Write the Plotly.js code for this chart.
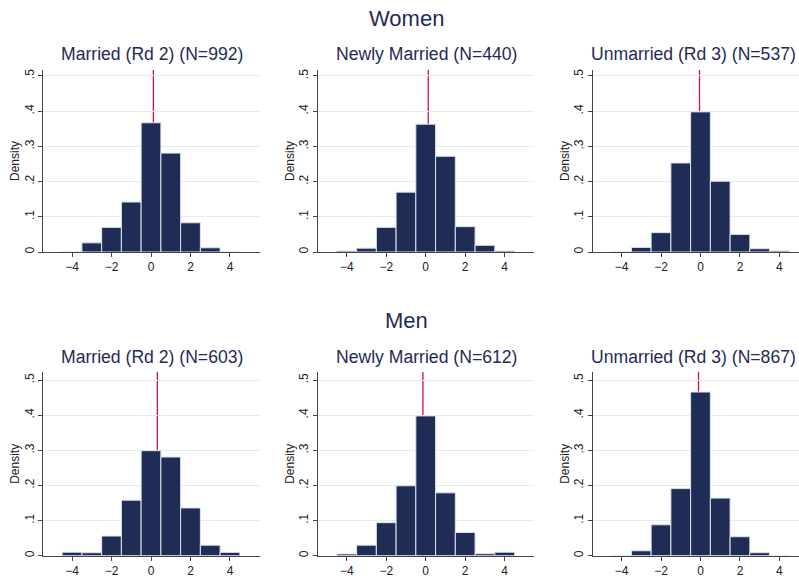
<!DOCTYPE html>
<html>
<head>
<meta charset="utf-8">
<script src="https://cdn.plot.ly/plotly-3.0.1.min.js"></script>
<style>
html, body { margin:0; padding:0; overflow:hidden; background:#fff; }
#chart { width:799px; height:578px; }
</style>
</head>
<body>
<div id="chart"></div>
<script>
// Bin centres (bin width 1)
const bins = [-4, -3, -2, -1, 0, 1, 2, 3, 4];

// Densities
const womenMarried   = [0, 0.026, 0.070, 0.142, 0.367, 0.281, 0.083, 0.012, 0];
const womenNewly     = [0.003, 0.011, 0.070, 0.170, 0.363, 0.272, 0.072, 0.019, 0.003];
const womenUnmarried = [0, 0.013, 0.055, 0.253, 0.398, 0.201, 0.050, 0.0095, 0.003];
const menMarried     = [0.010, 0.0085, 0.056, 0.158, 0.299, 0.281, 0.136, 0.030, 0.0095];
const menNewly       = [0.005, 0.030, 0.094, 0.199, 0.398, 0.179, 0.066, 0.0057, 0.010];
const menUnmarried   = [0, 0.014, 0.088, 0.191, 0.466, 0.164, 0.054, 0.0085, 0];

// Vertical reference lines (means)
const womenMeans = [0.12, 0.13, -0.05];
const menMeans   = [0.32, -0.14, -0.10];

const panelTitles = [
  "Married (Rd 2) (N=992)", "Newly Married (N=440)", "Unmarried (Rd 3) (N=537)",
  "Married (Rd 2) (N=603)", "Newly Married (N=612)", "Unmarried (Rd 3) (N=867)"
];
const rowTitles = ["Women", "Men"];
const yTitle = "Density";
const xTickVals = [-4, -2, 0, 2, 4];
const yTickVals = [0, 0.1, 0.2, 0.3, 0.4, 0.5];
const yTickText = ["0", ".1", ".2", ".3", ".4", ".5"];

const series = [womenMarried, womenNewly, womenUnmarried, menMarried, menNewly, menUnmarried];
const means = womenMeans.concat(menMeans);

// ---- layout geometry ----
const W = 799, H = 578;
const px = v => v / W;
const py = v => 1 - v / H;
const xDomains = [[px(43.4), px(259.6)], [px(318.1), px(534.3)], [px(592.9), 1]];
const xRanges  = [[-5.45, 5.5], [-5.45, 5.5], [-5.45, 4.99]];
const yDomains = [[py(252), py(70)], [py(555.7), py(372)]];
const yRanges  = [[0, 0.517], [0, 0.523]];
const yTitleX  = [15, 290, 565];

const barColor = '#1f2d56';
const lineRed = '#c8163f';
const titleColor = '#1f2b57';
const axisColor = '#444444';
const gridColor = '#e3ecee';
const FONT = 'Liberation Sans, Arial, Helvetica, sans-serif';

const traces = [];
const layout = {
  width: W, height: H,
  margin: {l:0, r:0, t:0, b:0},
  paper_bgcolor: '#ffffff', plot_bgcolor: '#ffffff',
  showlegend: false,
  bargap: 0,
  font: {family: FONT, color: '#222222', size: 12},
  annotations: [], shapes: []
};

for (let i = 0; i < 6; i++) {
  const row = i < 3 ? 0 : 1, col = i % 3;
  const n = i === 0 ? '' : String(i + 1);
  traces.push({
    type: 'bar', x: bins, y: series[i], width: 1,
    xaxis: 'x' + n, yaxis: 'y' + n,
    marker: {color: barColor, line: {color: '#dde2ea', width: 1}},
    hoverinfo: 'x+y'
  });
  layout['xaxis' + n] = {
    domain: xDomains[col], anchor: 'y' + n, range: xRanges[col],
    tickvals: xTickVals, showline: true, linecolor: axisColor, linewidth: 1,
    ticks: 'outside', ticklen: 4, tickcolor: axisColor,
    zeroline: false, showgrid: false,
    tickfont: {size: 12, color: '#222222', family: FONT}
  };
  layout['yaxis' + n] = {
    domain: yDomains[row], anchor: 'x' + n, range: yRanges[row],
    tickvals: yTickVals, ticktext: yTickText, tickangle: -90,
    showline: true, linecolor: axisColor, linewidth: 1,
    ticks: 'outside', ticklen: 4, tickcolor: axisColor,
    showgrid: true, gridcolor: gridColor, gridwidth: 1, zeroline: false,
    tickfont: {size: 12, color: '#222222', family: FONT}
  };
  layout.shapes.push({
    type: 'line', xref: 'x' + n, yref: 'y' + n + ' domain',
    x0: means[i], x1: means[i], y0: 0, y1: 1,
    line: {color: lineRed, width: 1.3}, layer: 'below'
  });
  const titleAnn = {
    text: panelTitles[i], yref: 'paper',
    y: row === 0 ? py(54) : py(357),
    yanchor: 'middle', showarrow: false,
    font: {size: 17.6, color: titleColor, family: FONT}
  };
  if (col === 2) {
    // right-hand column: keep the title inside the canvas
    Object.assign(titleAnn, {xref: 'paper', x: px(798), xanchor: 'right'});
  } else {
    Object.assign(titleAnn, {xref: 'x' + n, x: 0.025, xanchor: 'center'});
  }
  layout.annotations.push(titleAnn);
  layout.annotations.push({
    text: yTitle, xref: 'paper', yref: 'paper', textangle: -90,
    x: px(yTitleX[col]), y: (yDomains[row][0] + yDomains[row][1]) / 2,
    xanchor: 'center', yanchor: 'middle', showarrow: false,
    font: {size: 12, color: '#222222', family: FONT}
  });
}
rowTitles.forEach((t, r) => {
  layout.annotations.push({
    text: t, xref: 'paper', yref: 'paper',
    x: px(406), y: r === 0 ? py(18) : py(320),
    xanchor: 'center', yanchor: 'middle', showarrow: false,
    font: {size: 22, color: titleColor, family: FONT}
  });
});

Plotly.newPlot('chart', traces, layout, {staticPlot: true, displayModeBar: false});
</script>
</body>
</html>
